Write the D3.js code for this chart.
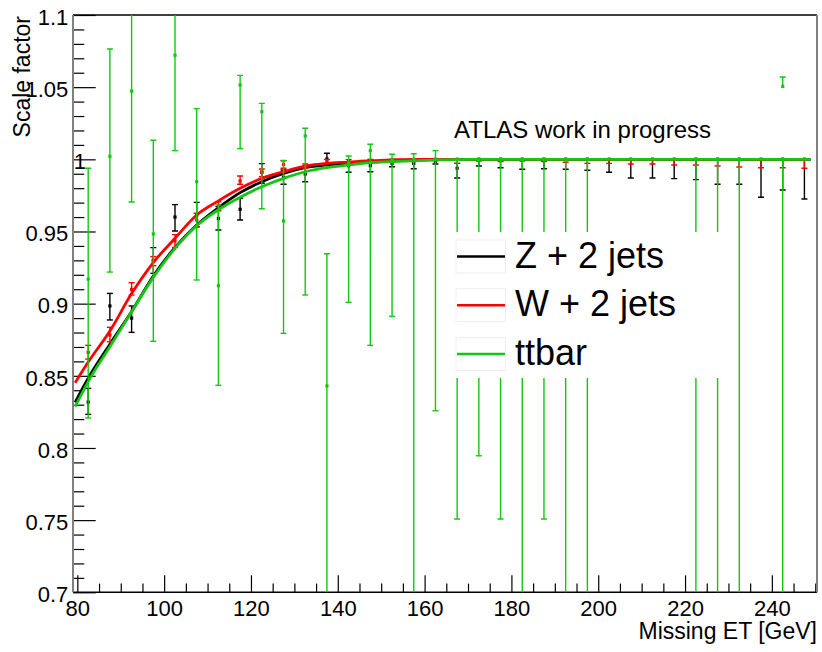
<!DOCTYPE html>
<html>
<head>
<meta charset="utf-8">
<script src="https://cdn.jsdelivr.net/npm/d3@7"></script>
<style>
    body { margin: 0; background: #fff; }
    text { font-family: "Liberation Sans", Arial, Helvetica, sans-serif; }
</style>
</head>
<body>
<div id="div_placeholder"></div>
<script>
// bin centres (GeV)
var zX = [82.5, 87.5, 92.5, 97.5, 102.5, 107.5, 112.5, 117.5, 122.5, 127.5, 132.5, 137.5, 142.5, 147.5, 152.5, 157.5, 162.5,
    167.5, 172.5, 177.5, 182.5, 187.5, 192.5, 197.5, 202.5, 207.5, 212.5, 217.5, 222.5, 227.5, 232.5, 237.5, 242.5, 247.5];
var wX = zX;

// Z + 2 jets
var zY = [0.8318, 0.8984, 0.890, 0.930, 0.960, 0.9614, 0.959, 0.9654, 0.991, 0.9875, 0.9898, 1.0002, 0.9956, 0.9956, 0.9972, 0.9972, 0.9985,
    0.9938, 1, 1, 1, 1, 1, 1, 1, 1, 1, 1, 1, 1, 1, 1, 1, 1];
var zLo = [0.8233, 0.8887, 0.8801, 0.921, 0.9503, 0.9533, 0.951, 0.958, 0.9834, 0.9827, 0.9845, 0.9961, 0.991, 0.9914, 0.9949, 0.9935, 0.9968,
    0.9871, 0.9954, 0.9942, 0.9931, 0.9935, 0.9931, 0.9924, 0.991, 0.9871, 0.9871, 0.9866, 0.9859, 0.9827, 0.9827, 0.9737, 0.9787, 0.9725];
var zHi = [0.8413, 0.9071, 0.8984, 0.9388, 0.9686, 0.9702, 0.9672, 0.973, 0.997, 0.9926, 0.9949, 1.0042, 0.9984, 0.9988, 0.9995, 0.9998, 1,
    0.9972, 1, 1, 1, 1, 1, 1, 1, 1, 1, 1, 1, 1, 1, 1, 1, 1];

// W + 2 jets
var wY = [0.8663, 0.8783, 0.9099, 0.9295, 0.9435, 0.958, 0.9677, 0.985, 0.9914, 0.9965, 0.9954, 0.9984, 0.9988, 0.9993, 0.9995, 0.999, 1,
    1, 1, 1, 1, 1, 1, 1, 1, 1, 1, 1, 1, 1, 1, 1, 1, 1];
var wLo = [0.8616, 0.8736, 0.906, 0.9263, 0.939, 0.9533, 0.9644, 0.9827, 0.988, 0.9938, 0.9938, 0.9972, 0.9977, 0.9985, 0.9988, 0.9984, 0.9992,
    0.9972, 0.9988, 0.9984, 0.9988, 0.9984, 0.998, 0.9972, 0.9972, 0.9968, 0.9968, 0.9961, 0.9961, 0.9954, 0.9947, 0.9942, 0.9942, 0.9938];
var wHi = [0.8711, 0.8836, 0.9145, 0.9326, 0.9478, 0.9626, 0.9706, 0.9884, 0.9933, 0.999, 0.9968, 1, 0.9998, 1, 1, 0.9996, 1,
    1, 1, 1, 1, 1, 1, 1, 1, 1, 1, 1, 1, 1, 1, 1, 1, 1];

// ttbar (empty bins left out)
var ttX = [82.5, 87.5, 92.5, 97.5, 102.5, 107.5, 112.5, 117.5, 122.5, 127.5, 132.5, 137.5, 142.5, 147.5, 152.5, 157.5, 162.5,
    167.5, 172.5, 177.5, 182.5, 187.5, 192.5, 197.5, 222.5, 227.5, 232.5, 242.5, 242.5];
var ttY = [0.917, 1.0021, 1.0473, 0.9483, 1.0721, 0.9845, 0.9124, 1.0515, 1.033, 0.9573, 1.0162, 0.843, 0.9972, 1.006, 0.9995, 1.0, 1.0,
    1, 1, 1, 1, 1, 1, 1, 1, 1, 1, 1, 1.0505];
var ttLo = [0.8208, 0.9219, 0.9704, 0.8739, 1.006, 0.9164, 0.8434, 1.0074, 0.9658, 0.8794, 0.906, 0.68, 0.9009, 0.8711, 0.8912, 0.68, 0.8258,
    0.7508, 0.7946, 0.7508, 0.68, 0.7508, 0.68, 0.68, 0.68, 0.68, 0.68, 0.68, 1.0505];
var ttHi = [0.9938, 1.0764, 1.125, 1.0132, 1.14, 1.0351, 0.9683, 1.0582, 1.0388, 0.9993, 1.0215, 0.9346, 1.0023, 1.0104, 1.0035, 1.0039, 1.006,
    1, 1, 1, 1, 1, 1, 1, 1, 1, 1, 1, 1.057];

// fitted curves
var curveX = [79.5, 82.5, 87.5, 92.5, 97.5, 102.5, 107.5, 112.5, 117.5, 122.5, 127.5, 132.5, 137.5, 142.5, 147.5, 152.5, 157.5, 162.5, 170, 190, 220, 249];
var zCurve = [0.8316, 0.8483, 0.8719, 0.8945, 0.9192, 0.9389, 0.9545, 0.9665, 0.9769, 0.9845, 0.9903, 0.9942, 0.9961, 0.9972, 0.9981, 0.9988, 0.9995, 0.9998, 1, 1, 1, 1];
var wCurve = [0.8452, 0.8595, 0.881, 0.907, 0.9285, 0.9453, 0.9614, 0.9712, 0.9799, 0.9868, 0.9914, 0.9953, 0.9972, 0.9981, 0.999, 0.9996, 1, 1, 1, 1, 1, 1];
var ttCurve = [0.8286, 0.846, 0.8702, 0.8944, 0.9182, 0.9383, 0.954, 0.965, 0.9737, 0.981, 0.9868, 0.9914, 0.9942, 0.9961, 0.9977, 0.9984, 0.999, 0.9995, 1, 1, 1, 1];

var xMajor = [80, 100, 120, 140, 160, 180, 200, 220, 240];
var yMajor = [0.7, 0.75, 0.8, 0.85, 0.9, 0.95, 1, 1.05, 1.1];

var legendNames = ["Z + 2 jets", "W + 2 jets", "ttbar"];
var colZ = "#000000", colW = "#ff0000", colTT = "#12c812";

var width = 822;
var height = 652;

var x = d3.scaleLinear().domain([79, 250.4]).range([73, 817]);
var y = d3.scaleLinear().domain([0.7, 1.1]).range([592.3, 15]);

var svg = d3.select("#div_placeholder")
    .append("svg")
    .attr("width", width)
    .attr("height", height);

svg.append("clipPath").attr("id", "frame")
    .append("rect")
    .attr("x", x.range()[0]).attr("y", y.range()[1])
    .attr("width", x.range()[1] - x.range()[0])
    .attr("height", y.range()[0] - y.range()[1]);

// axes (ticks point into the frame, ROOT style)
var xMinor = d3.range(85, 251, 5).filter(function (d) { return xMajor.indexOf(d) < 0; });
var yMinor = d3.range(70, 111).map(function (d) { return d / 100; })
    .filter(function (d) { return Math.round(d * 100) % 5 != 0; });

svg.append("g")
    .attr("transform", "translate(0," + y.range()[0] + ")")
    .call(d3.axisBottom(x).tickValues(xMinor).tickSize(-8.7).tickFormat(""))
    .call(function (g) { g.select(".domain").remove(); });

svg.append("g")
    .attr("class", "xaxis")
    .attr("transform", "translate(0," + y.range()[0] + ")")
    .call(d3.axisBottom(x).tickValues(xMajor).tickSize(-17).tickPadding(8).tickFormat(function (d) { return d; }))
    .call(function (g) { g.select(".domain").remove(); });

svg.append("g")
    .attr("transform", "translate(" + x.range()[0] + ",0)")
    .call(d3.axisLeft(y).tickValues(yMinor).tickSize(-11.3).tickFormat(""))
    .call(function (g) { g.select(".domain").remove(); });

svg.append("g")
    .attr("class", "yaxis")
    .attr("transform", "translate(" + x.range()[0] + ",0)")
    .call(d3.axisLeft(y).tickValues(yMajor).tickSize(-22.7).tickPadding(4.7).tickFormat(function (d) { return d; }))
    .call(function (g) { g.select(".domain").remove(); });

svg.selectAll(".xaxis text, .yaxis text")
    .style("font-size", "22px")
    .style("fill", "#000");
svg.selectAll(".yaxis text").attr("dy", "0.42em");
// the "1" label sits against the frame in the original
svg.selectAll(".yaxis .tick text")
    .filter(function (d) { return d === 1; })
    .attr("x", 13);
svg.selectAll(".tick line").style("stroke", "#000").style("stroke-width", 1.2);

// frame
svg.append("line").attr("x1", 73).attr("x2", 817).attr("y1", 15).attr("y2", 15)
    .style("stroke", "#000").style("stroke-width", 1.5);
svg.append("line").attr("x1", 73).attr("x2", 817).attr("y1", 592.3).attr("y2", 592.3)
    .style("stroke", "#000").style("stroke-width", 1.5);
svg.append("line").attr("x1", 73).attr("x2", 73).attr("y1", 15).attr("y2", 592.3)
    .style("stroke", "#808080").style("stroke-width", 2);
svg.append("line").attr("x1", 817).attr("x2", 817).attr("y1", 15).attr("y2", 592.3)
    .style("stroke", "#808080").style("stroke-width", 2);

var plot = svg.append("g").attr("clip-path", "url(#frame)");

function drawSeries(xs, ys, los, his, curve, color) {
    var pts = xs.map(function (d, i) {
        return { x: d, y: ys[i], lo: los[i], hi: his[i] };
    });
    var g = plot.append("g");

    // error bars
    g.selectAll(".bar")
        .data(pts)
        .enter()
        .append("line")
        .attr("x1", function (d) { return x(d.x); })
        .attr("x2", function (d) { return x(d.x); })
        .attr("y1", function (d) { return y(d.lo); })
        .attr("y2", function (d) { return y(d.hi); })
        .style("stroke", color)
        .style("stroke-width", 1.4);

    var caps = [];
    pts.forEach(function (d) {
        if (d.hi > d.y) caps.push({ x: d.x, v: d.hi });
        if (d.lo < d.y) caps.push({ x: d.x, v: d.lo });
    });
    g.selectAll(".cap")
        .data(caps)
        .enter()
        .append("line")
        .attr("x1", function (d) { return x(d.x) - 3; })
        .attr("x2", function (d) { return x(d.x) + 3; })
        .attr("y1", function (d) { return y(d.v); })
        .attr("y2", function (d) { return y(d.v); })
        .style("stroke", color)
        .style("stroke-width", 1.4);

    g.selectAll(".pt")
        .data(pts)
        .enter()
        .append("rect")
        .attr("x", function (d) { return x(d.x) - 1.6; })
        .attr("y", function (d) { return y(d.y) - 1.6; })
        .attr("width", 3.2)
        .attr("height", 3.2)
        .style("fill", color);

    var line = d3.line()
        .x(function (d, i) { return x(curveX[i]); })
        .y(function (d) { return y(d); })
        .curve(d3.curveMonotoneX);

    g.append("path")
        .datum(curve)
        .attr("d", line)
        .style("fill", "none")
        .style("stroke", color)
        .style("stroke-width", 2.8);
}

drawSeries(zX, zY, zLo, zHi, zCurve, colZ);
drawSeries(wX, wY, wLo, wHi, wCurve, colW);
drawSeries(ttX, ttY, ttLo, ttHi, ttCurve, colTT);

// legend
var legend = svg.append("g");
legend.append("rect")
    .attr("x", 450).attr("y", 232)
    .attr("width", 278).attr("height", 146)
    .style("fill", "#fff");

var legendColors = [colZ, colW, colTT];
legendNames.forEach(function (name, i) {
    var cy = 256.5 + i * 48.7;
    legend.append("rect")
        .attr("x", 456).attr("y", cy - 16.5)
        .attr("width", 49.5).attr("height", 33)
        .style("fill", "none")
        .style("stroke", "#eeeeee")
        .style("stroke-width", 1);
    legend.append("line")
        .attr("x1", 457).attr("x2", 505)
        .attr("y1", cy).attr("y2", cy)
        .style("stroke", legendColors[i])
        .style("stroke-width", 2.5);
    legend.append("text")
        .attr("x", 515)
        .attr("y", cy + 11)
        .style("font-size", "36px")
        .style("fill", "#000")
        .text(name);
});

svg.append("text")
    .attr("x", 454)
    .attr("y", 138)
    .style("font-size", "24px")
    .style("fill", "#000")
    .text("ATLAS work in progress");

// axis titles
svg.append("text")
    .attr("x", 817)
    .attr("y", 639)
    .attr("text-anchor", "end")
    .style("font-size", "23px")
    .style("fill", "#000")
    .text("Missing ET [GeV]");

svg.append("text")
    .attr("transform", "translate(29.5,16) rotate(-90)")
    .attr("text-anchor", "end")
    .style("font-size", "23px")
    .style("fill", "#000")
    .text("Scale factor");
</script>
</body>
</html>
